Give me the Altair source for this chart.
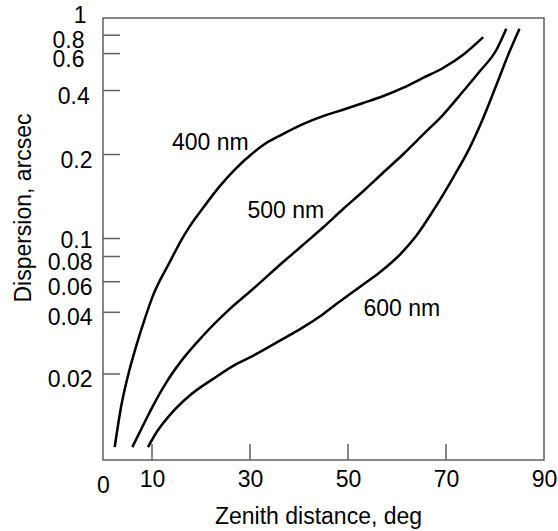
import altair as alt
import pandas as pd

# ---- data ----
zenith_400 = [2.39, 3.73, 5.10, 6.80, 8.51, 10.2, 13.6, 16.1, 17.7, 20.4, 23.8, 27.2,
              30.6, 33.3, 36.7, 40.8, 44.9, 49.0, 53.1, 57.1, 61.2, 65.3, 69.4, 73.5, 77.6]
disp_400 = [0.0115, 0.0163, 0.0198, 0.0292, 0.0378, 0.0509, 0.0754, 0.0994, 0.1145, 0.1363,
            0.1621, 0.1839, 0.2047, 0.236, 0.264, 0.295, 0.320, 0.340, 0.361, 0.382, 0.414,
            0.468, 0.522, 0.594, 0.780]

zenith_500 = [5.98, 8.16, 10.2, 12.9, 16.3, 20.4, 25.9, 30.6, 36.7, 40.8, 44.9, 49.0, 53.1,
              57.1, 61.2, 65.3, 69.4, 73.5, 76.9, 80.3, 82.3]
disp_500 = [0.0115, 0.0140, 0.0163, 0.0190, 0.0249, 0.0324, 0.0422, 0.0552, 0.0754, 0.0928,
            0.1131, 0.1351, 0.1562, 0.178, 0.200, 0.262, 0.324, 0.3975, 0.504, 0.642, 0.876]

zenith_600 = [9.18, 10.9, 13.6, 17.7, 22.4, 27.2, 30.6, 36.1, 40.8, 44.9, 49.0, 53.1, 56.5,
              60.6, 63.9, 67.3, 71.4, 74.8, 77.6, 80.3, 82.7, 85.0]
disp_600 = [0.0115, 0.0132, 0.0152, 0.0175, 0.0194, 0.0232, 0.0259, 0.0308, 0.0351, 0.0394,
            0.0487, 0.0582, 0.0675, 0.0822, 0.103, 0.1324, 0.172, 0.220, 0.314, 0.431,
            0.594, 0.876]

curve_labels = ["400 nm", "500 nm", "600 nm"]
label_x = [21.9, 37.3, 61.0]
label_y = [0.235, 0.1327, 0.0424]

x_tick_values = [10, 30, 50, 70]
x_label_values = [0, 10, 30, 50, 70, 90]
y_tick_values = [0.02, 0.04, 0.06, 0.08, 0.1, 0.2, 0.4, 0.6, 0.8]
y_label_values = [1, 0.8, 0.6, 0.4, 0.2, 0.1, 0.08, 0.06, 0.04, 0.02]

# ---- tables ----
rows = []
for name, xs, ys in [("400 nm", zenith_400, disp_400),
                     ("500 nm", zenith_500, disp_500),
                     ("600 nm", zenith_600, disp_600)]:
    for a, b in zip(xs, ys):
        rows.append({"series": name, "x": a, "y": b})
curves = pd.DataFrame(rows)
labels = pd.DataFrame({"label": curve_labels, "x": label_x, "y": label_y})
xt = pd.DataFrame({"x": x_tick_values})
yt = pd.DataFrame({"y": y_tick_values})

FONT = "Liberation Sans"
FS = 23
GREY = "#606060"

xscale = alt.Scale(domain=[0, 90], zero=False, nice=False)
# hand-drawn logarithmic axis: tick positions follow the original figure
yscale = alt.Scale(type="linear",
                   domain=[0.01, 0.02, 0.04, 0.06, 0.08, 0.1, 0.2, 0.4, 0.6, 0.8, 1.0],
                   range=[442, 356, 294.3, 263.7, 238.5, 220.5, 136.5, 72.5, 35.6, 17.2, 0],
                   zero=False, nice=False)

xaxis = alt.Axis(values=x_label_values, title="Zenith distance, deg", grid=False,
                 domain=False, ticks=False, tickSize=0, labelFlush=False, labelOverlap=False,
                 labelFont=FONT, labelFontSize=FS, labelColor="#000",
                 labelBaseline="alphabetic",
                 labelPadding={"condition": {"test": "datum.value == 0", "value": 32.5},
                               "value": 26.5},
                 titleFont=FONT, titleFontSize=FS, titleFontWeight="normal", titleColor="#000",
                 titleX=215, titleY=63, titleAlign="center", titleBaseline="alphabetic")

yaxis = alt.Axis(values=y_label_values, format=".2~f", title="Dispersion, arcsec",
                 grid=False, domain=False, ticks=False, tickSize=0, labelFlush=False,
                 labelOverlap=False, labelFont=FONT, labelFontSize=FS, labelColor="#000",
                 labelBaseline="alphabetic", labelAlign="right",
                 labelOffset={"condition": [{"test": "datum.value == 1", "value": 4.5},
                                            {"test": "datum.value == 0.1", "value": 8.7}],
                              "value": 12.5},
                 labelPadding={"condition": [{"test": "datum.value == 1", "value": 17},
                                             {"test": "datum.value >= 0.6", "value": 19},
                                             {"test": "datum.value == 0.4", "value": 13.7}],
                               "value": 11},
                 titleFont=FONT, titleFontSize=FS, titleFontWeight="normal", titleColor="#000",
                 titleAngle=270, titleX=-73, titleY=189.5, titleAlign="center",
                 titleBaseline="alphabetic")

X = alt.X("x:Q", scale=xscale, axis=xaxis)
Y = alt.Y("y:Q", scale=yscale, axis=yaxis)

lines = alt.Chart(curves).mark_line(color="black", strokeWidth=2.5,
                                    interpolate="monotone").encode(
    x=X, y=Y, detail="series:N")

xticks = alt.Chart(xt).mark_rule(color=GREY, strokeWidth=1.5).encode(
    x=X, y=alt.value(442), y2=alt.value(426))

yticks = alt.Chart(yt).mark_rule(color=GREY, strokeWidth=1.5).encode(
    y=Y, x=alt.value(0), x2=alt.value(17))

texts = alt.Chart(labels).mark_text(font=FONT, fontSize=FS, color="#000",
                                    align="center", baseline="middle").encode(
    x=X, y=Y, text="label:N")

chart = alt.layer(lines, xticks, yticks, texts).properties(
    width=441, height=442,
    autosize=alt.AutoSizeParams(type="none"),
    padding={"left": 103, "top": 18, "right": 14, "bottom": 71},
    background="white",
).configure_view(stroke=GREY, strokeWidth=1.5)

chart.save("out.html", embed_options={"renderer": "svg", "actions": False})
